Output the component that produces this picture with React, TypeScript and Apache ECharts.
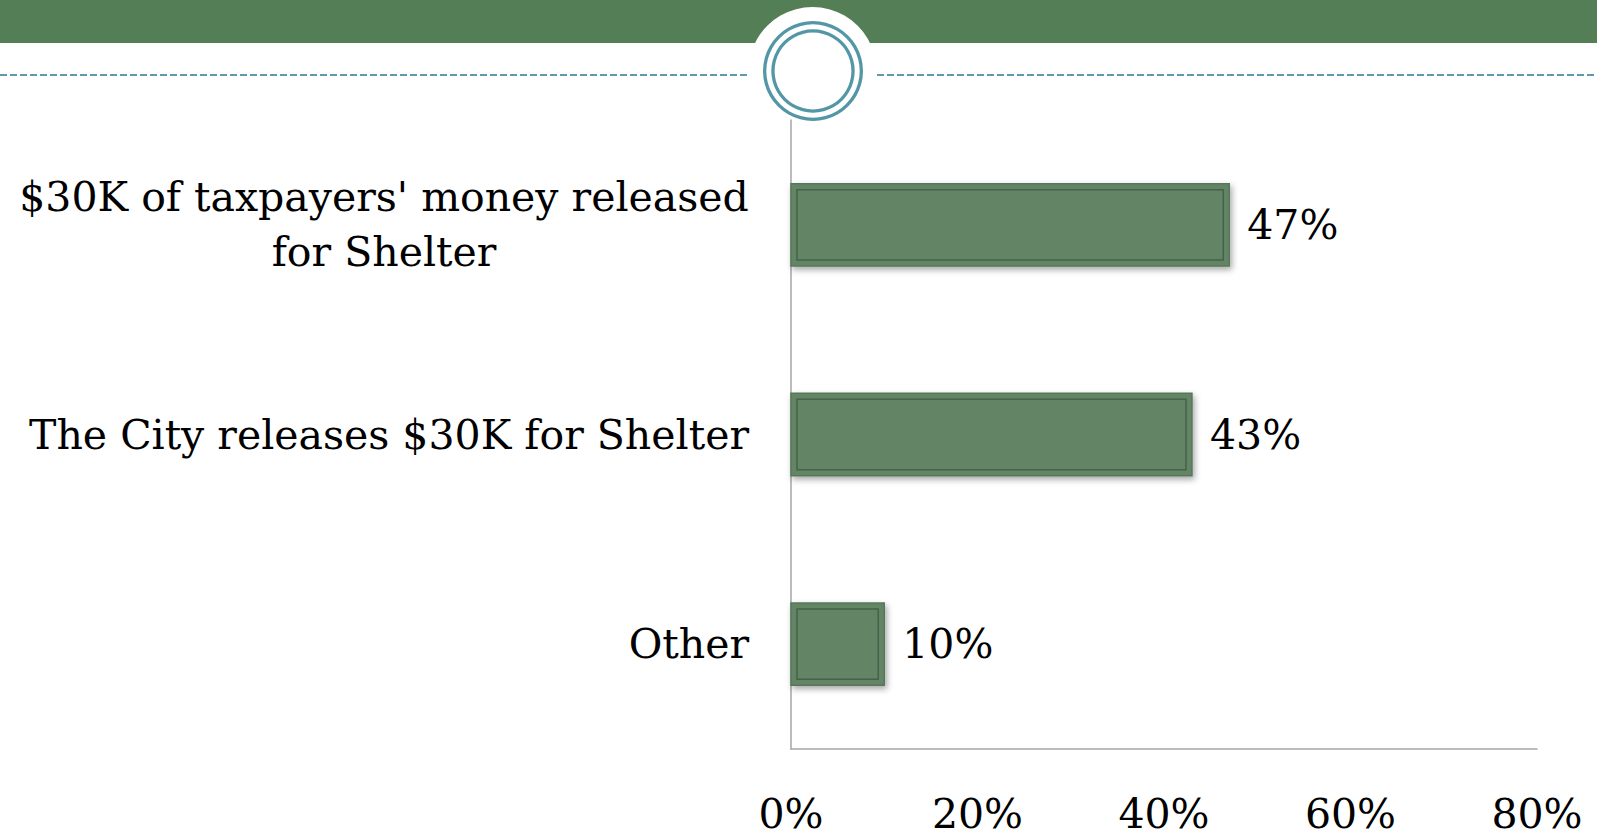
import React, { useEffect, useRef } from "react";
import * as echarts from "echarts";

const categories = [
  "$30K of taxpayers' money released\nfor Shelter",
  "The City releases $30K for Shelter",
  "Other",
];
const values = [47, 43, 10];
const xMin = 0;
const xMax = 80;
const xStep = 20;

const FONT = '"DejaVu Serif", serif';
const FS = 41;

function measure(text: string): number {
  const c = document.createElement("canvas").getContext("2d");
  if (!c) return text.length * FS * 0.55;
  c.font = `${FS}px "DejaVu Serif"`;
  return c.measureText(text).width;
}

export default function App() {
  const ref = useRef<HTMLDivElement>(null);
  useEffect(() => {
    if (!ref.current) return;
    const chart = echarts.init(ref.current, null, { renderer: "svg" });
    const firstLines = categories[0].split("\n");
    const w0 = Math.ceil(Math.max(...firstLines.map(measure)));

    const option: any = {
      animation: false,
      backgroundColor: "#ffffff",
      grid: { left: 791, right: 60, top: 120, bottom: 90, containLabel: false },
      xAxis: {
        type: "value",
        min: xMin,
        max: xMax,
        interval: xStep,
        z: 2,
        axisLine: { show: true, lineStyle: { color: "#a6a6a6", width: 1.5 } },
        axisTick: { show: false },
        splitLine: { show: false },
        axisLabel: {
          formatter: "{value}%",
          color: "#000",
          fontFamily: FONT,
          fontSize: FS,
          margin: 44,
        },
      },
      yAxis: {
        type: "category",
        inverse: true,
        data: categories,
        z: 2,
        axisLine: { show: true, lineStyle: { color: "#a6a6a6", width: 1.5 } },
        axisTick: { show: false },
        axisLabel: {
          color: "#000",
          fontFamily: FONT,
          fontSize: FS,
          lineHeight: 55,
          margin: 42,
          formatter: (v: string) => {
            if (v.indexOf("\n") >= 0) {
              return v
                .split("\n")
                .map((s) => `{c|${s}}`)
                .join("\n");
            }
            return v;
          },
          rich: {
            c: {
              width: w0,
              align: "center",
              color: "#000",
              fontFamily: FONT,
              fontSize: FS,
              lineHeight: 55,
            },
          },
        },
      },
      series: [
        {
          type: "custom",
          z: 3,
          data: values.map((v, i) => [v, i]),
          encode: { x: 0, y: 1 },
          renderItem: (params: any, api: any) => {
            const v = api.value(0);
            const c = api.value(1);
            const s = api.coord([0, c]);
            const e = api.coord([v, c]);
            const h = api.size([0, 1])[1] * 0.393;
            const x = s[0];
            const y = s[1] - h / 2;
            const w = e[0] - s[0];
            const ins = 6;
            return {
              type: "group",
              children: [
                {
                  type: "rect",
                  shape: { x, y, width: w, height: h },
                  style: {
                    fill: "#648566",
                    stroke: "#57785a",
                    lineWidth: 1.5,
                    shadowBlur: 6,
                    shadowColor: "rgba(0,0,0,0.35)",
                    shadowOffsetX: 2,
                    shadowOffsetY: 3,
                  },
                },
                {
                  type: "rect",
                  shape: { x: x + ins, y: y + ins, width: w - 2 * ins, height: h - 2 * ins },
                  style: { fill: "none", stroke: "#44634a", lineWidth: 1.5 },
                },
                {
                  type: "text",
                  style: {
                    x: e[0] + 18,
                    y: s[1],
                    text: `${v}%`,
                    fill: "#000",
                    font: `${FS}px ${FONT}`,
                    verticalAlign: "middle",
                    align: "left",
                  },
                },
              ],
            };
          },
        },
      ],
      graphic: [
        {
          type: "rect",
          z: -3,
          shape: { x: 0, y: 0, width: 1597, height: 43 },
          style: { fill: "#547e55" },
        },
        {
          type: "line",
          z: -3,
          shape: { x1: 0, y1: 75, x2: 748, y2: 75 },
          style: { stroke: "#5f9aab", lineWidth: 2, lineDash: [7, 3] },
        },
        {
          type: "line",
          z: -3,
          shape: { x1: 877, y1: 75, x2: 1597, y2: 75 },
          style: { stroke: "#5f9aab", lineWidth: 2, lineDash: [7, 3] },
        },
        {
          type: "circle",
          z: -2,
          shape: { cx: 812.5, cy: 71, r: 64 },
          style: { fill: "#ffffff" },
        },
        {
          type: "ring",
          z: -1,
          shape: { cx: 813, cy: 71, r: 50, r0: 46.7 },
          style: { fill: "#5396a6" },
        },
        {
          type: "ring",
          z: -1,
          shape: { cx: 813, cy: 71, r: 41.7, r0: 38.4 },
          style: { fill: "#5396a6" },
        },
      ],
    };
    chart.setOption(option);
    return () => chart.dispose();
  }, []);
  return (
    <div
      ref={ref}
      style={{ position: "fixed", left: 0, top: 0, width: 1597, height: 839 }}
    />
  );
}
